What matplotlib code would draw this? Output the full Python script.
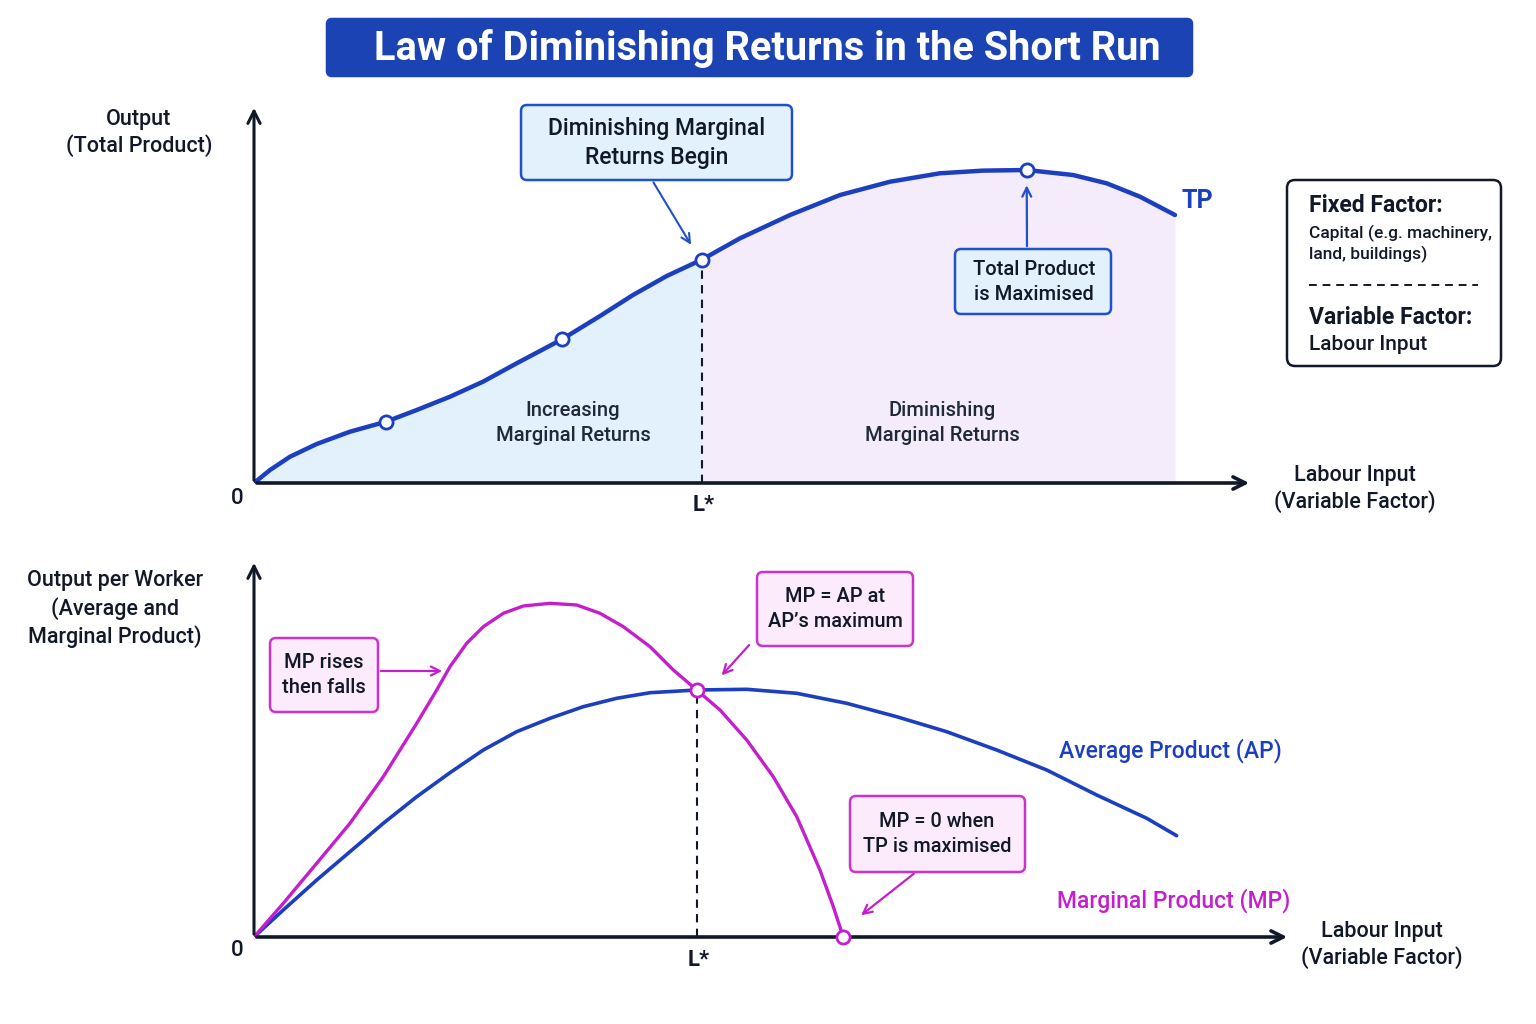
import matplotlib
matplotlib.use("Agg")
import matplotlib.pyplot as plt
from matplotlib.patches import FancyBboxPatch

plt.rcParams['font.family'] = ['Roboto', 'DejaVu Sans']
plt.rcParams['font.weight'] = 'medium'

# ---- data ----
# top panel: total product (labour units, output units)
tp_labour = [0, 0.174, 0.391, 0.681, 1.042, 1.433, 1.767, 2.128, 2.486, 2.852, 3.344,
             3.757, 4.115, 4.481, 4.861, 5.277, 5.820, 6.363, 6.906, 7.448, 7.915,
             8.390, 8.893, 9.258, 9.620, 10.0]
tp_output = [0, 4.15, 8.40, 12.46, 16.39, 19.58, 23.32, 27.57, 32.36, 38.24, 45.91,
             53.35, 60.06, 66.13, 71.34, 78.18, 85.62, 92.01, 96.26, 98.95, 99.8,
             100.0, 98.40, 95.75, 91.47, 85.62]
tp_markers_x = [1.433, 3.344, 4.861, 8.390]
tp_markers_y = [19.58, 45.91, 71.34, 100.0]
L_STAR_TOP = 4.861

# bottom panel: marginal and average product
mp_labour = [0, 0.318, 0.681, 1.042, 1.404, 1.767, 1.984, 2.128, 2.309, 2.490, 2.707,
             2.924, 3.214, 3.504, 3.757, 4.010, 4.300, 4.553, 4.807, 5.060, 5.350,
             5.638, 5.893, 6.145, 6.290, 6.398]
mp_value = [0, 6.74, 14.74, 22.74, 32.06, 42.74, 49.4, 54.06, 58.74, 62.06, 64.74,
            66.2, 66.74, 66.4, 64.74, 62.06, 58.06, 53.4, 49.4, 45.4, 39.4,
            32.06, 24.06, 13.4, 6.06, 0]
ap_labour = [0, 0.318, 0.681, 1.042, 1.404, 1.767, 2.128, 2.490, 2.852, 3.214, 3.575,
             3.938, 4.300, 4.807, 5.350, 5.893, 6.435, 6.978, 7.521, 8.064, 8.607,
             9.150, 9.693, 10.018]
ap_value = [0, 5.4, 11.4, 17.06, 22.74, 28.06, 32.86, 37.4, 41.06, 43.74, 46.06,
            47.74, 48.86, 49.4, 49.54, 48.74, 46.74, 44.06, 41.06, 37.4, 33.4,
            28.4, 23.74, 20.26]
L_STAR_BOT = 4.807
MP_ZERO = 6.398

BLUE = '#1c3fc0'
MAGENTA = '#c41fcc'
INK = '#111827'

W, H = 1536, 1024
fig = plt.figure(figsize=(15.36, 10.24), dpi=100)
fig.patch.set_facecolor('white')


def px_axes(left, top, right, bottom):
    return fig.add_axes([left / W, 1 - bottom / H, (right - left) / W, (bottom - top) / H])


# overlay in pixel coordinates for boxes / labels
ov = fig.add_axes([0, 0, 1, 1], zorder=5)
ov.set_xlim(0, W)
ov.set_ylim(H, 0)
ov.axis('off')
ov.patch.set_alpha(0)


def box(x0, y0, x1, y1, fc, ec, lw=1.8, r=6):
    ov.add_patch(FancyBboxPatch((x0, y0), x1 - x0, y1 - y0,
                                boxstyle='round,pad=0,rounding_size=%d' % r,
                                fc=fc, ec=ec, lw=lw))


# title
box(327, 19, 1192, 76, '#1b43b3', '#1b43b3', r=5)
ov.text(767, 49, 'Law of Diminishing Returns in the Short Run', color='white',
        fontsize=28.6, fontweight='bold', ha='center', va='center')

# ---------------- top panel ----------------
top = px_axes(254, 100, 1260, 483)
top.set_xlim(0, 1006 / 92.1)
top.set_ylim(0, 383 / 3.13)
top.axis('off')

tpx, tpy = tp_labour, tp_output
top.fill_between(tpx, tpy, where=[x <= L_STAR_TOP for x in tpx], color='#e3f1fc', lw=0)
top.fill_between(tpx, tpy, where=[x >= L_STAR_TOP for x in tpx], color='#f4ebfb', lw=0)
top.plot(tpx, tpy, color=BLUE, lw=3.2, solid_capstyle='round', solid_joinstyle='round', zorder=3)
top.plot([L_STAR_TOP, L_STAR_TOP], [0, 71.34], color=INK, lw=1.5, ls=(0, (4, 3)), zorder=2)
top.scatter(tp_markers_x, tp_markers_y, s=90, facecolor='white', edgecolor=BLUE, lw=2, zorder=4)

top.annotate('', xy=(1.0 - 8 / 1006, 0), xytext=(0, 0), xycoords='axes fraction',
             arrowprops=dict(arrowstyle='->', lw=2.6, color=INK, mutation_scale=22))
top.annotate('', xy=(0, 1.0 - 5 / 383), xytext=(0, 0), xycoords='axes fraction',
             arrowprops=dict(arrowstyle='->', lw=2.2, color=INK, mutation_scale=22))

ov.text(139, 133, 'Output\n(Total Product)', fontsize=15.5, ha='center', va='center',
        color=INK, linespacing=1.25)
ov.text(237, 498, '0', fontsize=16, ha='center', va='center', color=INK)
ov.text(704, 505, 'L*', fontsize=16, fontweight='bold', ha='center', va='center', color=INK)
ov.text(1355, 489, 'Labour Input\n(Variable Factor)', fontsize=15.5, ha='center', va='center',
        color=INK, linespacing=1.25)
ov.text(1182, 201, 'TP', fontsize=18, fontweight='bold', ha='left', va='center', color=BLUE)
ov.text(573, 423, 'Increasing\nMarginal Returns', fontsize=14.5, ha='center', va='center',
        color='#1f2937', linespacing=1.35)
ov.text(942, 423, 'Diminishing\nMarginal Returns', fontsize=14.5, ha='center', va='center',
        color='#1f2937', linespacing=1.35)

# callout: diminishing returns begin
box(521, 105, 792, 180, '#e3f1fd', '#2250c8')
ov.text(657, 143, 'Diminishing Marginal\nReturns Begin', fontsize=16.5, ha='center',
        va='center', color=INK, linespacing=1.3)
top.annotate('', xy=(L_STAR_TOP - 0.1, 71.34 + 4), xytext=(652, 180), textcoords=ov.transData,
             arrowprops=dict(arrowstyle='->', lw=1.5, color='#2250c8', mutation_scale=16))

# callout: total product is maximised
box(955, 249, 1111, 314, '#e3f1fd', '#2250c8')
ov.text(1034, 282, 'Total Product\nis Maximised', fontsize=14.5, ha='center', va='center',
        color=INK, linespacing=1.35)
top.annotate('', xy=(8.39, 100 - 4), xytext=(1027, 249), textcoords=ov.transData,
             arrowprops=dict(arrowstyle='->', lw=1.6, color='#2250c8', mutation_scale=16))

# factor box
box(1287, 180, 1501, 366, 'white', INK, lw=1.8, r=8)
ov.text(1309, 205, 'Fixed Factor:', fontsize=16.5, fontweight='bold', ha='left', va='center',
        color=INK)
ov.text(1309, 244, 'Capital (e.g. machinery,\nland, buildings)', fontsize=12.5,
        ha='left', va='center', color=INK, linespacing=1.35)
ov.plot([1309, 1478], [285, 285], color=INK, lw=1.4, ls=(0, (4, 3)))
ov.text(1309, 317, 'Variable Factor:', fontsize=16.5, fontweight='bold', ha='left', va='center',
        color=INK)
ov.text(1309, 344, 'Labour Input', fontsize=15, ha='left', va='center', color=INK)

# ---------------- bottom panel ----------------
bot = px_axes(254, 555, 1300, 937)
bot.set_xlim(0, 1046 / 92.1)
bot.set_ylim(0, 382 / 5.0)
bot.axis('off')

bot.plot(ap_labour, ap_value, color=BLUE, lw=2.6, solid_capstyle='round',
         solid_joinstyle='round', zorder=3)
bot.plot(mp_labour, mp_value, color=MAGENTA, lw=2.4, solid_capstyle='round',
         solid_joinstyle='round', zorder=3)
bot.plot([L_STAR_BOT, L_STAR_BOT], [0, 49.4], color=INK, lw=1.5, ls=(0, (4, 3)), zorder=2)
bot.scatter([L_STAR_BOT, MP_ZERO], [49.4, 0], s=90, facecolor='white', edgecolor=MAGENTA,
            lw=2, zorder=5, clip_on=False)

bot.annotate('', xy=(1.0 - 10 / 1046, 0), xytext=(0, 0), xycoords='axes fraction',
             arrowprops=dict(arrowstyle='->', lw=2.6, color=INK, mutation_scale=22))
bot.annotate('', xy=(0, 1.0 - 5 / 382), xytext=(0, 0), xycoords='axes fraction',
             arrowprops=dict(arrowstyle='->', lw=2.2, color=INK, mutation_scale=22))

ov.text(115, 609, 'Output per Worker\n(Average and\nMarginal Product)', fontsize=15.5,
        ha='center', va='center', color=INK, linespacing=1.3)
ov.text(237, 951, '0', fontsize=16, ha='center', va='center', color=INK)
ov.text(699, 960, 'L*', fontsize=16, fontweight='bold', ha='center', va='center', color=INK)
ov.text(1382, 945, 'Labour Input\n(Variable Factor)', fontsize=15.5, ha='center', va='center',
        color=INK, linespacing=1.25)
ov.text(1059, 751, 'Average Product (AP)', fontsize=16.5, ha='left', va='center', color=BLUE)
ov.text(1057, 901, 'Marginal Product (MP)', fontsize=16.5, ha='left', va='center', color=MAGENTA)

# callout: MP rises then falls
box(270, 638, 378, 712, '#fcebfb', '#cc33cc')
ov.text(324, 675, 'MP rises\nthen falls', fontsize=14.5, ha='center', va='center', color=INK,
        linespacing=1.35)
ov.annotate('', xy=(445, 671), xytext=(378, 671),
            arrowprops=dict(arrowstyle='->', lw=1.6, color=MAGENTA, mutation_scale=16))

# callout: MP = AP
box(757, 572, 913, 646, '#fcebfb', '#cc33cc')
ov.text(835, 609, "MP = AP at\nAP\u2019s maximum", fontsize=14.3, ha='center', va='center',
        color=INK, linespacing=1.35)
bot.annotate('', xy=(L_STAR_BOT + 0.25, 49.4 + 2.5), xytext=(751, 643), textcoords=ov.transData,
             arrowprops=dict(arrowstyle='->', lw=1.6, color=MAGENTA, mutation_scale=16))

# callout: MP = 0
box(850, 796, 1025, 872, '#fcebfb', '#cc33cc')
ov.text(937, 834, 'MP = 0 when\nTP is maximised', fontsize=14.3, ha='center', va='center',
        color=INK, linespacing=1.35)
bot.annotate('', xy=(MP_ZERO + 0.17, 4), xytext=(916, 872), textcoords=ov.transData,
             arrowprops=dict(arrowstyle='->', lw=1.6, color=MAGENTA, mutation_scale=16))

fig.savefig('out.png', dpi=100, facecolor='white')
